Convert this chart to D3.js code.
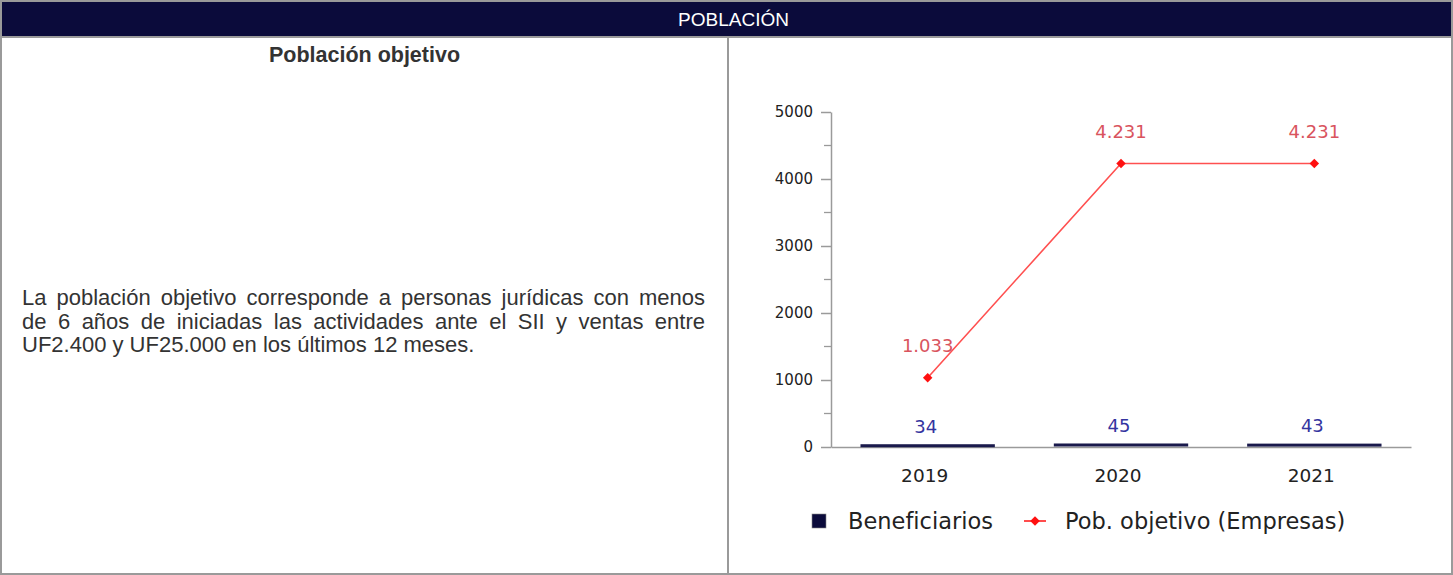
<!DOCTYPE html>
<html lang="es">
<head>
<meta charset="UTF-8">
<title>Población</title>
<style>
  body { margin: 0; background: #fff; font-family: "Liberation Sans", Arial, sans-serif; }
  #wrap { position: relative; width: 1453px; height: 575px; }
  #header {
    position: absolute; left: 0; top: 0; width: 1435px; height: 35px; padding-left: 14px;
    background: #0b0b3b; border: 2px solid #9a9a9a; border-bottom: none;
    color: #fff; font-size: 19px; text-align: center; line-height: 35px;
  }
  #body {
    position: absolute; left: 0; top: 36px; width: 1449px; height: 535px;
    border: 2px solid #9a9a9a;
  }
  #divider { position: absolute; left: 725px; top: 0; width: 2px; height: 535px; background: #9a9a9a; }
  #title { position: absolute; left: 0; width: 725px; top: 5px; text-align: center;
    font-weight: bold; font-size: 21.5px; color: #333; }
  #desc { position: absolute; left: 20px; top: 248px; width: 683px;
    font-size: 22px; line-height: 23.5px; color: #333; margin: 0; }
  #desc span { display: block; text-align: justify; text-align-last: justify; white-space: nowrap; }
  #desc span.last { text-align-last: left; }
  #chart { position: absolute; left: 0; top: 0; }
</style>
</head>
<body>
<div id="wrap">
  <div id="header">POBLACIÓN</div>
  <div id="body">
    <div id="divider"></div>
    <div id="title">Población objetivo</div>
    <p id="desc"><span>La población objetivo corresponde a personas jurídicas con menos</span><span>de 6 años de iniciadas las actividades ante el SII y ventas entre</span><span class="last">UF2.400 y UF25.000 en los últimos 12 meses.</span></p>
  </div>
  <svg id="chart" width="1453" height="575"></svg>
</div>
<script src="https://d3js.org/d3.v7.min.js"></script>
<script>
  const years = ["2019", "2020", "2021"];
  const beneficiarios = [34, 45, 43];
  const poblacion = [1033, 4231, 4231];
  const yTicks = [0, 1000, 2000, 3000, 4000, 5000];
  const seriesNames = ["Beneficiarios", "Pob. objetivo (Empresas)"];

  const es = d3.formatLocale({ decimal: ",", thousands: ".", grouping: [3], currency: ["$", ""] });
  const fmt = es.format(",d");

  const svg = d3.select("#chart");
  const plotLeft = 831, plotRight = 1411, plotTop = 112, plotBottom = 447;

  const x = d3.scaleBand().domain(years).range([plotLeft, plotRight]).padding(0);
  const y = d3.scaleLinear().domain([0, 5000]).range([plotBottom, plotTop]);

  const tickFont = "'DejaVu Sans', sans-serif";

  // minor ticks every 500
  svg.append("g").selectAll("line")
    .data(d3.range(500, 5000, 1000))
    .join("line")
    .attr("x1", plotLeft - 7).attr("x2", plotLeft)
    .attr("y1", d => y(d)).attr("y2", d => y(d))
    .attr("stroke", "#9a9a9a").attr("stroke-width", 1.3);

  // y axis
  const yAxis = svg.append("g")
    .attr("transform", `translate(${plotLeft},0)`)
    .call(d3.axisLeft(y).tickValues(yTicks).tickFormat(d3.format("d")).tickSize(10).tickSizeOuter(0).tickPadding(8));
  yAxis.select(".domain").attr("stroke", "#9a9a9a").attr("stroke-width", 1.5);
  yAxis.selectAll(".tick line").attr("stroke", "#9a9a9a").attr("stroke-width", 1.5);
  yAxis.selectAll("text").attr("font-family", tickFont).attr("font-size", 15).attr("fill", "#222");

  // x axis
  const xAxis = svg.append("g")
    .attr("transform", `translate(0,${plotBottom})`)
    .call(d3.axisBottom(x).tickSize(0).tickPadding(22));
  xAxis.select(".domain").attr("stroke", "#9a9a9a").attr("stroke-width", 1.5);
  xAxis.selectAll("text").attr("font-family", tickFont).attr("font-size", 18.5).attr("fill", "#222")
    .attr("dx", -3);

  // bars
  const barW = x.bandwidth() * 0.695;
  svg.append("g").selectAll("rect")
    .data(beneficiarios)
    .join("rect")
    .attr("x", (d, i) => x(years[i]) + (x.bandwidth() - barW) / 2)
    .attr("width", barW)
    .attr("y", d => y(d) - 0.5)
    .attr("height", d => Math.max(plotBottom - y(d), 3))
    .attr("fill", "#1a1a4c");

  svg.append("g").selectAll("text")
    .data(beneficiarios)
    .join("text")
    .attr("x", (d, i) => x(years[i]) + x.bandwidth() / 2 - 2)
    .attr("y", d => y(d) - 12)
    .attr("text-anchor", "middle")
    .attr("font-family", tickFont).attr("font-size", 18)
    .attr("fill", "#3434a0")
    .text(d => d);

  // line
  const cx = i => x(years[i]) + x.bandwidth() / 2;
  const line = d3.line().x((d, i) => cx(i)).y(d => y(d));
  svg.append("path")
    .datum(poblacion)
    .attr("d", line)
    .attr("fill", "none").attr("stroke", "#ff5050").attr("stroke-width", 1.6);

  const marker = d3.symbol().type(d3.symbolSquare).size(45);
  svg.append("g").selectAll("path")
    .data(poblacion)
    .join("path")
    .attr("d", marker)
    .attr("transform", (d, i) => `translate(${cx(i)},${y(d)}) rotate(45)`)
    .attr("fill", "#ff1010");

  svg.append("g").selectAll("text")
    .data(poblacion)
    .join("text")
    .attr("x", (d, i) => cx(i))
    .attr("y", d => y(d) - 26)
    .attr("text-anchor", "middle")
    .attr("font-family", tickFont).attr("font-size", 18)
    .attr("fill", "#d9545e")
    .text(d => fmt(d));

  // legend
  const lg = svg.append("g").attr("font-family", tickFont).attr("font-size", 22.5).attr("fill", "#222");
  lg.append("rect").attr("x", 812).attr("y", 514).attr("width", 14).attr("height", 14)
    .attr("fill", "#0b0b3b").attr("stroke", "#888").attr("stroke-width", 0.6);
  lg.append("text").attr("x", 848).attr("y", 529).text(seriesNames[0]);
  lg.append("line").attr("x1", 1024).attr("x2", 1046).attr("y1", 521).attr("y2", 521)
    .attr("stroke", "#ff2020").attr("stroke-width", 1.6);
  lg.append("path").attr("d", marker).attr("transform", "translate(1035,521) rotate(45)").attr("fill", "#ff1010");
  lg.append("text").attr("x", 1065).attr("y", 529).text(seriesNames[1]);
</script>
</body>
</html>
